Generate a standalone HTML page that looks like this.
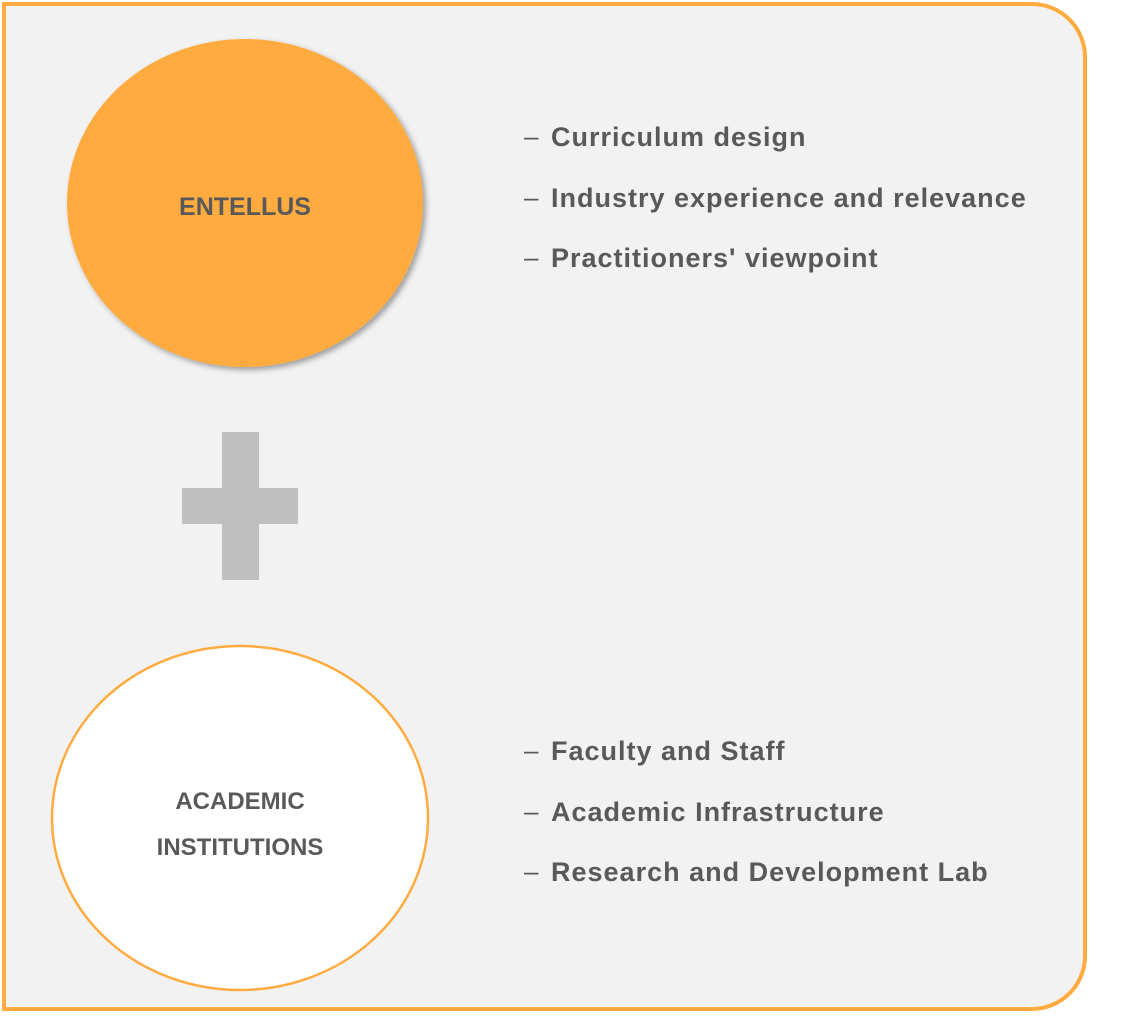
<!DOCTYPE html>
<html><head><style>
body{margin:0;width:1131px;height:1032px;background:#fff;position:relative;overflow:hidden;font-family:"Liberation Sans",sans-serif;}
.frame{position:absolute;left:2px;top:2px;width:1077px;height:1001px;border:4px solid #ffab40;border-radius:0 55px 55px 0;background:#f2f2f2;}
.t{position:absolute;font-weight:bold;font-size:27px;letter-spacing:1px;color:#595959;white-space:nowrap;}
.d{position:absolute;font-size:26px;color:#595959;}
</style></head><body>
<div class="frame"></div>
<svg width="1131" height="1032" style="position:absolute;left:0;top:0">
<defs><filter id="s" x="-20%" y="-20%" width="140%" height="140%"><feDropShadow dx="3" dy="3" stdDeviation="3" flood-color="#000" flood-opacity="0.35"/></filter></defs>
<ellipse cx="245" cy="203" rx="178" ry="164" fill="#ffab40" filter="url(#s)"/>
<ellipse cx="240" cy="818" rx="188" ry="172" fill="#fff" stroke="#ffab40" stroke-width="2.5"/>
<rect x="222" y="432" width="37" height="148" fill="#bfbfbf"/>
<rect x="182" y="488" width="116" height="36" fill="#bfbfbf"/>
<text x="245" y="215" text-anchor="middle" font-family="Liberation Sans" font-weight="bold" font-size="25" fill="#595959">ENTELLUS</text>
<text x="240" y="809" text-anchor="middle" font-family="Liberation Sans" font-weight="bold" font-size="24" fill="#595959">ACADEMIC</text>
<text x="240" y="855" text-anchor="middle" font-family="Liberation Sans" font-weight="bold" font-size="24" fill="#595959">INSTITUTIONS</text>
</svg>
<div class="d" style="left:524px;top:121px">–</div><div class="t" style="left:551px;top:122px">Curriculum design</div>
<div class="d" style="left:524px;top:182px">–</div><div class="t" style="left:551px;top:183px">Industry experience and relevance</div>
<div class="d" style="left:524px;top:242px">–</div><div class="t" style="left:551px;top:243px">Practitioners' viewpoint</div>
<div class="d" style="left:524px;top:735px">–</div><div class="t" style="left:551px;top:736px">Faculty and Staff</div>
<div class="d" style="left:524px;top:796px">–</div><div class="t" style="left:551px;top:797px">Academic Infrastructure</div>
<div class="d" style="left:524px;top:856px">–</div><div class="t" style="left:551px;top:857px">Research and Development Lab</div>
</body></html>
